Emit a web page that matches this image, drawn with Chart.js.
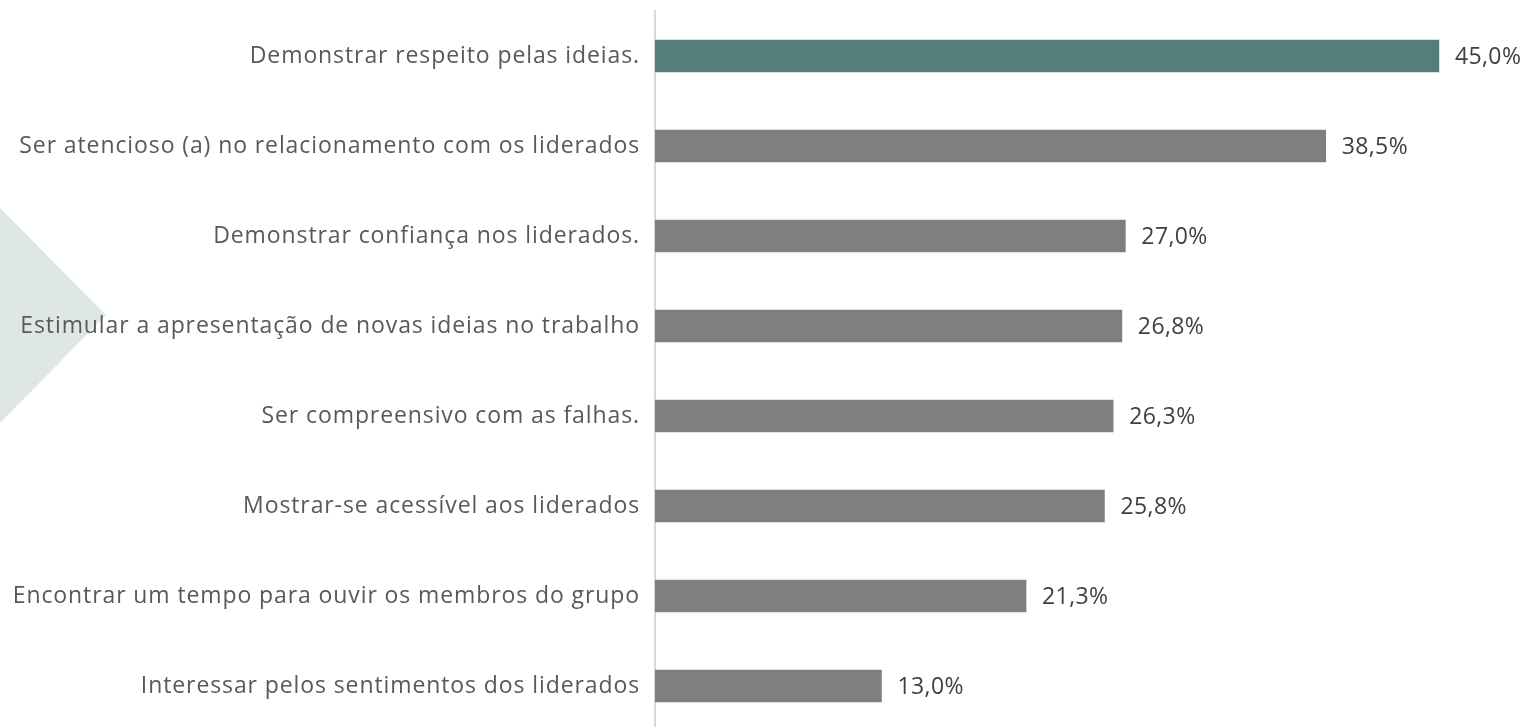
<!DOCTYPE html>
<html>
<head>
<meta charset="utf-8">
<script src="https://cdn.jsdelivr.net/npm/chart.js@4/dist/chart.umd.min.js"></script>
<style>
  html, body { margin: 0; padding: 0; background: #ffffff; overflow: hidden; }
  #wrap { position: relative; width: 1533px; height: 740px; }
  #tri { position: absolute; left: 0; top: 0; width: 1533px; height: 740px; }
  #c { position: absolute; left: 0; top: 0; }
</style>
</head>
<body>
<div id="wrap">
  <svg id="tri" width="1533" height="740"><polygon points="0,208 106,315 0,423" fill="#dfe7e6"/></svg>
  <canvas id="c" width="1533" height="740"></canvas>
</div>
<script>
const categories = [
  "Demonstrar respeito pelas ideias.",
  "Ser atencioso (a) no relacionamento com os liderados",
  "Demonstrar confiança nos liderados.",
  "Estimular a apresentação de novas ideias no trabalho",
  "Ser compreensivo com as falhas.",
  "Mostrar-se acessível aos liderados",
  "Encontrar um tempo para ouvir os membros do grupo",
  "Interessar pelos sentimentos dos liderados"
];
const values = [45.0, 38.5, 27.0, 26.8, 26.3, 25.8, 21.3, 13.0];
const barColors = ["#557d7a", "#7f7f7f", "#7f7f7f", "#7f7f7f", "#7f7f7f", "#7f7f7f", "#7f7f7f", "#7f7f7f"];

const FONT = "'Open Sans'";
const FSIZE = 23;

const spacing = {
  id: "spacing",
  beforeDraw(chart) { chart.ctx.letterSpacing = "0.9px"; }
};

const valueLabels = {
  id: "valueLabels",
  afterDatasetsDraw(chart) {
    const ctx = chart.ctx;
    const meta = chart.getDatasetMeta(0);
    ctx.save();
    ctx.letterSpacing = "0.4px";
    ctx.font = FSIZE + "px " + FONT;
    ctx.fillStyle = "#404040";
    ctx.textAlign = "left";
    ctx.textBaseline = "middle";
    meta.data.forEach((bar, i) => {
      const txt = values[i].toFixed(1).replace(".", ",") + "%";
      ctx.fillText(txt, bar.x + 16, bar.y + 1);
    });
    ctx.restore();
  }
};

new Chart(document.getElementById("c"), {
  type: "bar",
  data: {
    labels: categories,
    datasets: [{
      data: values,
      backgroundColor: barColors,
      barThickness: 32,
      borderWidth: 0
    }]
  },
  options: {
    indexAxis: "y",
    responsive: false,
    animation: false,
    layout: { padding: { top: 11, right: 7, bottom: 9, left: 0 } },
    plugins: { legend: { display: false }, tooltip: { enabled: false } },
    scales: {
      x: { display: false, min: 0, max: 50 },
      y: {
        afterFit(scale) { scale.width = 655; scale.paddingTop = 0; scale.paddingBottom = 0; },
        grid: { display: false, drawTicks: false },
        border: { display: true, color: "#d9d9d9", width: 2 },
        ticks: { color: "#595959", font: { family: FONT, size: FSIZE }, padding: 15, autoSkip: false }
      }
    }
  },
  plugins: [spacing, valueLabels]
});
</script>
</body>
</html>
